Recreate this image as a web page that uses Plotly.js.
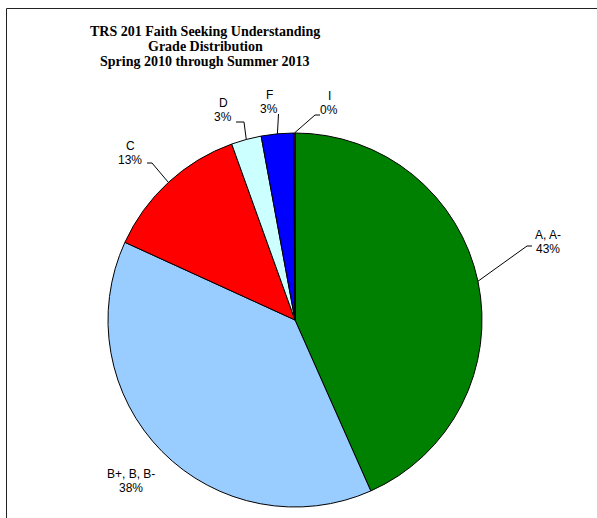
<!DOCTYPE html>
<html>
<head>
<meta charset="utf-8">
<script src="https://cdn.plot.ly/plotly-3.0.1.min.js"></script>
<style>html,body{margin:0;padding:0;background:#fff;}#chart{width:597px;height:518px;}</style>
</head>
<body>
<div id="chart"></div>
<script>
// ---- data ----
const categories = ["A, A-", "B+, B, B-", "C", "D", "F", "I"];
const percents = [43.4, 38.5, 12.7, 2.6, 2.8, 0.1];
const sliceColors = ["#008000", "#99CCFF", "#FF0000", "#CCFFFF", "#0000FF", "#800080"];
const titleLines = ["TRS 201 Faith Seeking Understanding", "Grade Distribution", "Spring 2010 through Summer 2013"];

// ---- layout / style ----
const W = 597, H = 518;
const cx = 295, cy = 320, R = 187;
// label placement (pixels): text block centre, and leader elbow points (null = no leader)
const labelStyle = [
  {tx: 548, ty: 242, path: [[527, 246], [532, 246]]},
  {tx: 131, ty: 481, path: null},
  {tx: 130, ty: 153, path: [[152, 163], [147, 163]]},
  {tx: 223, ty: 110, path: [[244, 122], [236, 122]]},
  {tx: 269, ty: 102, path: [[278.5, 114]]},
  {tx: 329, ty: 103, path: [[315, 115], [320, 115]]}
];

const px = x => x / W;
const py = y => 1 - y / H;

const total = percents.reduce((a, b) => a + b, 0);
const annotations = [];
const shapes = [];

// title
titleLines.forEach((t, i) => {
  annotations.push({
    text: "<b>" + t + "</b>", xref: "paper", yref: "paper",
    x: px(205), y: py(32 + i * 14.75), xanchor: "center", yanchor: "middle",
    showarrow: false, font: {family: "Liberation Serif, Times New Roman, serif", size: 14, color: "#000"}
  });
});

// labels
let cum = 0;
categories.forEach((c, i) => {
  const mid = (cum + percents[i] / 2) / total;
  cum += percents[i];
  const ang = mid * 2 * Math.PI;
  const ex = cx + R * Math.sin(ang), ey = cy - R * Math.cos(ang);
  const st = labelStyle[i];
  const pctText = Math.round(percents[i] / total * 100) + "%";
  annotations.push({
    text: c, xref: "paper", yref: "paper", x: px(st.tx), y: py(st.ty - 7),
    xanchor: "center", yanchor: "middle", showarrow: false,
    font: {family: "Liberation Sans, Arial, sans-serif", size: 12, color: "#000"}
  });
  annotations.push({
    text: pctText, xref: "paper", yref: "paper", x: px(st.tx), y: py(st.ty + 7),
    xanchor: "center", yanchor: "middle", showarrow: false,
    font: {family: "Liberation Sans, Arial, sans-serif", size: 12, color: "#000"}
  });
  if (st.path) {
    let d = "M" + px(ex) + "," + py(ey);
    st.path.forEach(p => { d += " L" + px(p[0]) + "," + py(p[1]); });
    shapes.push({type: "path", xref: "paper", yref: "paper", path: d, line: {color: "#000", width: 1}});
  }
});

// frame
shapes.push({type: "rect", xref: "paper", yref: "paper",
  x0: px(6.5), x1: px(800), y0: py(8.5), y1: py(800), line: {color: "#222", width: 1}});

const trace = {
  type: "pie",
  labels: categories,
  values: percents,
  marker: {colors: sliceColors, line: {color: "#000", width: 1}},
  sort: false,
  direction: "clockwise",
  rotation: 0,
  textinfo: "none",
  hoverinfo: "none",
  showlegend: false,
  domain: {x: [px(cx - R), px(cx + R)], y: [py(cy + R), py(cy - R)]}
};

Plotly.newPlot("chart", [trace], {
  width: W, height: H,
  margin: {l: 0, r: 0, t: 0, b: 0},
  paper_bgcolor: "#fff",
  showlegend: false,
  annotations: annotations,
  shapes: shapes
}, {displayModeBar: false, staticPlot: true});
</script>
</body>
</html>
